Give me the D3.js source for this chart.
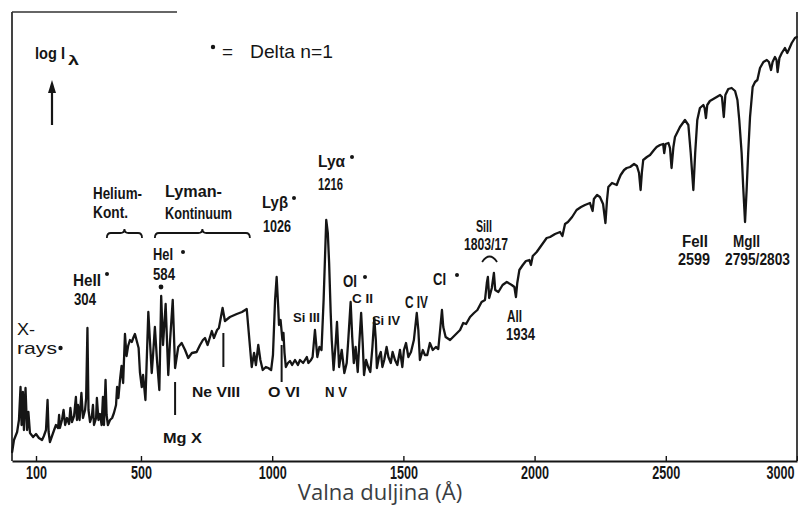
<!DOCTYPE html>
<html><head><meta charset="utf-8">
<script src="https://cdn.jsdelivr.net/npm/d3@7"></script>
<style>
html,body{margin:0;padding:0;background:#fff;}
svg{display:block;}
</style></head>
<body><svg id="c" width="798" height="505"></svg>
<script>
// Wavelength (Å) and log intensity (arbitrary units)
const wavelength = [9,16,28,35,41,45,50,54,60,66,71,77,89,100,111,123,130,138,144,148,153,161,169,176,184,188,191,199,205,211,218,226,231,237,245,252,256,260,266,273,279,287,291,296,300,306,313,317,321,329,332,338,344,350,355,359,365,369,374,382,390,397,405,409,414,420,426,432,439,445,451,458,465,472,477,485,491,496,503,508,517,528,541,546,553,561,570,577,584,594,604,611,621,630,642,655,668,680,694,712,725,736,744,754,770,778,790,797,811,820,839,865,885,903,922,931,938,947,955,964,976,985,996,1003,1011,1017,1023,1026,1032,1039,1043,1047,1052,1060,1068,1076,1087,1098,1106,1118,1132,1138,1148,1154,1163,1172,1180,1188,1196,1201,1206,1212,1217,1223,1227,1234,1242,1247,1255,1265,1275,1284,1290,1299,1305,1311,1318,1326,1332,1339,1345,1350,1358,1366,1374,1382,1389,1395,1399,1407,1414,1420,1427,1436,1443,1452,1459,1468,1477,1487,1496,1502,1510,1519,1529,1540,1551,1557,1563,1574,1582,1591,1601,1612,1624,1633,1640,1647,1652,1661,1678,1697,1716,1728,1739,1754,1769,1782,1798,1811,1818,1822,1827,1837,1845,1850,1862,1878,1894,1913,1923,1929,1934,1942,1955,1967,1980,1986,1993,2008,2027,2046,2059,2078,2097,2106,2116,2127,2143,2160,2177,2192,2211,2221,2226,2238,2249,2261,2270,2276,2281,2295,2313,2320,2328,2341,2351,2364,2379,2390,2398,2404,2409,2414,2428,2440,2455,2465,2478,2490,2494,2499,2510,2516,2522,2529,2535,2554,2573,2586,2595,2605,2612,2620,2630,2643,2648,2653,2658,2668,2681,2694,2707,2714,2721,2727,2738,2751,2764,2773,2780,2789,2795,2802,2808,2814,2821,2831,2840,2849,2859,2872,2885,2893,2901,2907,2916,2922,2926,2933,2942,2954,2963,2970,2980,2992,2999];
const logI = [0.9,2.1,2.9,4.1,7.4,3.6,6.9,3.1,7.3,3.1,4.9,2.8,2.4,2.7,2.3,2.1,2.5,3.1,6.1,2.9,1.9,2.5,3.1,3.6,3.3,4.6,3.3,4.1,5.1,3.6,4.3,3.7,5.3,3.9,4.5,6.4,4.1,5.6,4.1,6.8,4.3,5.1,6.3,13.3,5.1,3.9,4.5,5.6,3.6,4.3,6.3,4.1,4.7,3.6,6.4,3.6,8.1,4.6,3.6,4.1,4.3,4.8,5.6,7.4,6.3,8.1,9.5,7.8,12.7,10.5,11.5,12.1,11.9,12.4,12.7,11.9,11.3,8.9,7.4,8.6,6.1,14.9,8.8,10.6,13.4,10.1,7.1,16.5,11.6,15.7,8.6,12.1,16.1,9.3,11.4,11.8,11.1,10.3,10.8,10.9,11.6,12.1,12.3,11.6,13.0,12.3,13.1,13.3,15.3,14.0,14.4,14.7,14.9,15.2,9.4,10.8,9.6,11.6,10.1,9.1,9.4,9.3,9.1,10.6,16.1,18.4,15.4,13.6,14.1,12.1,12.8,10.8,9.4,9.8,10.0,9.6,10.1,9.6,10.1,9.8,10.4,9.8,10.1,10.4,13.1,10.4,11.4,11.1,16.1,20.1,24.1,22.8,19.8,14.8,12.1,9.1,11.8,13.9,9.4,11.1,8.8,9.8,12.1,15.9,12.4,9.8,11.4,8.9,11.8,14.8,11.8,8.6,10.1,9.4,8.9,11.4,14.3,12.1,9.3,10.4,10.9,9.4,10.1,11.4,10.4,9.8,10.9,10.1,9.6,11.1,9.4,11.1,11.8,10.4,10.9,12.1,14.8,13.1,10.1,11.1,10.6,10.6,11.8,11.1,11.4,11.2,13.1,15.1,13.4,12.4,12.1,12.6,13.1,13.8,13.7,14.4,14.8,15.1,15.9,16.1,17.8,18.4,16.3,17.3,18.8,17.1,16.9,17.6,17.9,17.6,17.4,16.4,17.8,19.1,19.6,20.0,20.1,19.6,20.5,20.9,21.6,22.3,22.4,22.7,22.9,22.5,23.7,23.9,24.4,25.1,25.4,25.6,25.8,25.0,26.2,26.6,26.4,25.7,23.8,26.1,27.4,27.8,27.6,28.1,28.6,29.1,29.3,29.4,29.7,29.5,28.8,27.1,28.9,30.1,30.4,30.6,31.1,31.4,31.6,31.7,30.8,31.7,31.8,31.3,29.3,31.4,32.4,33.4,34.1,33.6,30.8,27.1,30.8,34.1,35.3,35.6,35.3,34.3,35.6,36.0,36.2,36.4,36.6,36.4,34.4,36.6,37.2,37.3,37.0,36.1,34.1,30.8,27.4,23.9,27.1,30.8,34.4,37.4,37.9,38.1,39.3,39.9,40.1,39.9,39.1,39.9,40.4,40.1,38.9,40.3,40.8,41.3,40.8,41.2,41.8,42.3,42.4];

// Axis tick labels
const tickValues = [100, 500, 1000, 1500, 2000, 2500, 3000];

// Line markers below the spectrum (Mg X, Ne VIII, O VI)
const markerLambda = [630, 814, 1036];
const markerTop = [7.9, 12.8, 11.6];
const markerBottom = [4.6, 9.4, 7.9];

// Continuum braces (Helium-Kont., Lyman-Kontinuum, Si II)
const braceStart = [370, 553];
const braceEnd = [504, 915];
const arcStart = [1800];
const arcEnd = [1857];

const svg = d3.select('#c');
const x = d3.scaleLinear().domain([8.5, 3000]).range([12, 797]);
const y = d3.scaleLinear().domain([0, 44.9]).range([461, 12]);

const ink = '#151515';
const T = "'Liberation Sans Narrow','Liberation Sans',Arial,sans-serif";
const A = "'Liberation Sans',Arial,sans-serif";

// frame
svg.append('line').attr('x1',12).attr('x2',12).attr('y1',12).attr('y2',461).attr('stroke',ink).attr('stroke-width',1.6);
svg.append('line').attr('x1',797).attr('x2',797).attr('y1',12).attr('y2',461).attr('stroke',ink).attr('stroke-width',1.6);
svg.append('line').attr('x1',12).attr('x2',177).attr('y1',12).attr('y2',12).attr('stroke','#333').attr('stroke-width',1.3);

// axis
const ax = svg.append('g').attr('transform','translate(0,461)')
  .call(d3.axisBottom(x).tickValues(tickValues).tickSize(-5).tickSizeOuter(0).tickPadding(5).tickFormat(d3.format('d')));
ax.select('.domain').attr('stroke',ink).attr('stroke-width',1.8);
ax.selectAll('.tick line').attr('stroke',ink).attr('stroke-width',1.4);
ax.selectAll('.tick text').attr('font-family',T).attr('font-size',18).attr('font-weight','bold').attr('fill',ink)
  .attr('textLength', d => String(d).length * 7).attr('lengthAdjust','spacingAndGlyphs')
  .attr('x', d => d === 3000 ? -3 : 0)
  .attr('text-anchor', d => d === 3000 ? 'end' : 'middle');

// spectrum
const pts = wavelength.map((w,i) => [w, logI[i]]);
svg.append('path').datum(pts)
  .attr('d', d3.line().x(d => x(d[0])).y(d => y(d[1])))
  .attr('fill','none').attr('stroke',ink).attr('stroke-width',2.3)
  .attr('stroke-linejoin','round').attr('stroke-linecap','round');

// line markers
svg.selectAll('.mk').data(markerLambda).enter().append('line')
  .attr('x1', d => x(d)).attr('x2', d => x(d))
  .attr('y1', (d,i) => y(markerTop[i])).attr('y2', (d,i) => y(markerBottom[i]))
  .attr('stroke',ink).attr('stroke-width',2);

// braces
braceStart.forEach((s,i) => {
  const x0 = x(s), x1 = x(braceEnd[i]), xm = (x0+x1)/2, yb = 238, yl = 233, yt = 229, r = 4;
  svg.append('path').attr('d',
    `M${x0},${yb} Q${x0},${yl} ${x0+r},${yl} L${xm-r},${yl} Q${xm},${yl} ${xm},${yt} Q${xm},${yl} ${xm+r},${yl} L${x1-r},${yl} Q${x1},${yl} ${x1},${yb}`)
    .attr('fill','none').attr('stroke',ink).attr('stroke-width',1.8);
});
arcStart.forEach((s,i) => {
  const x0 = x(s), x1 = x(arcEnd[i]), xm = (x0+x1)/2;
  svg.append('path').attr('d', `M${x0},262 Q${xm},251 ${x1},262`)
    .attr('fill','none').attr('stroke',ink).attr('stroke-width',1.8);
});

// arrow for log I
svg.append('line').attr('x1',52).attr('x2',52).attr('y1',125).attr('y2',90).attr('stroke',ink).attr('stroke-width',2.2);
svg.append('path').attr('d','M52,80 L48,93 L56,93 Z').attr('fill',ink);

function lab(t, px, py, size, w, fam, wt) {
  const e = svg.append('text').attr('x',px).attr('y',py).attr('font-family',fam||T)
    .attr('font-size',size).attr('font-weight',wt||'bold').attr('fill',ink).text(t);
  if (w) e.attr('textLength',w).attr('lengthAdjust','spacingAndGlyphs');
  return e;
}
function dot(px, py, r) { svg.append('circle').attr('cx',px).attr('cy',py).attr('r',r||2).attr('fill',ink); }

lab('log I', 35, 59, 17, 30);
lab('λ', 68, 65, 13, 11);
dot(213, 47, 2.2);
lab('=', 222, 58, 19, 11, A, 'normal');
lab('Delta n=1', 250, 58, 19, 83, A, 'normal');

lab('X-', 17, 335, 17, 18, A, 'normal');
lab('rays', 17, 354, 17, 40, A, 'normal');
dot(60.5, 348, 2.2);

lab('HeII', 73, 286, 17, 28); dot(107, 274, 2);
lab('304', 74, 305, 17, 22);
lab('Helium-', 93, 199, 16, 49);
lab('Kont.', 93, 218, 16, 35);
lab('Lyman-', 165, 197, 16, 57);
lab('Kontinuum', 165, 219, 16, 67);
lab('Lyβ', 262, 208, 16, 26); dot(294, 198, 2);
lab('1026', 263, 232, 16, 28);
lab('Lyα', 318, 167, 16, 27); dot(352, 157, 2);
lab('1216', 318, 190, 16, 25);
lab('HeI', 153, 260, 16, 20); dot(183, 252, 2);
lab('584', 153, 280, 16, 22); dot(161, 287, 2.4);
lab('OI', 343, 287, 16, 14); dot(365, 277, 2);
lab('C IV', 405, 308, 16, 23);
lab('CI', 433, 285, 16, 13); dot(457, 275, 2);
lab('SiII', 476, 232, 16, 16);
lab('1803/17', 464, 250, 16, 44);
lab('AlI', 507, 322, 16, 15);
lab('1934', 506, 340, 16, 29);
lab('FeII', 682, 247, 16, 26);
lab('2599', 678, 265, 16, 32);
lab('MgII', 733, 247, 16, 27);
lab('2795/2803', 725, 265, 16, 65);

lab('Ne VIII', 192, 397, 14, 48, A, '600');
lab('Mg X', 163, 443, 14, 39, A, '600');
lab('O VI', 268, 397, 14, 32, A, '600');
lab('N V', 325, 397, 14, 22, A, '600');
lab('Si III', 293, 322, 12, 27, A, '600');
lab('C II', 352, 303, 13, 21, A, '600');
lab('Si IV', 372, 325, 13, 28, A, '600');

svg.append('text').attr('x',380).attr('y',500).attr('text-anchor','middle')
  .attr('font-family',"'Open Sans','Noto Sans',sans-serif").attr('font-size',22).attr('fill','#3a3d42')
  .text('Valna duljina (Å)');
</script>
</body></html>
